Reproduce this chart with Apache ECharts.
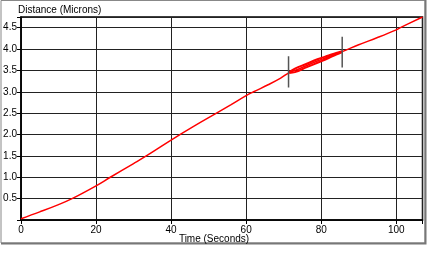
<!DOCTYPE html>
<html>
<head>
<meta charset="utf-8">
<script src="https://cdn.jsdelivr.net/npm/echarts@6/dist/echarts.min.js"></script>
<style>html,body{margin:0;padding:0;background:#fff}#c{width:428px;height:259px}</style>
</head>
<body>
<div id="c"></div>
<script>
// Main trace: time (s) and distance (microns)
var timeValues = [0, 5, 10, 13.6, 20, 23.8, 30, 33.6, 40, 46, 52.1, 56, 60, 62, 66, 69.2, 71.5, 73, 76, 79, 82, 84, 85.6, 90, 95, 100, 101.1, 107];
var distValues = [0.03, 0.19, 0.36, 0.5, 0.8, 1.0, 1.32, 1.51, 1.87, 2.19, 2.5, 2.7, 2.91, 3.0, 3.17, 3.32, 3.45, 3.50, 3.61, 3.72, 3.82, 3.89, 3.94, 4.1, 4.27, 4.45, 4.5, 4.75];
// Thick (overlapping runs) region
var bandTime = [71.5, 73, 76, 79, 82, 84, 85.6];
var bandUpper = [3.46, 3.54, 3.65, 3.76, 3.85, 3.91, 3.95];
var bandLower = [3.44, 3.46, 3.57, 3.68, 3.79, 3.87, 3.93];
// Error bars: [time, low, high]
var errTime = [71.3, 85.6];
var errLow = [3.10, 3.57];
var errHigh = [3.83, 4.29];
// Axis settings
var xTicks = [0, 20, 40, 60, 80, 100];
var yTicks = [0.5, 1.0, 1.5, 2.0, 2.5, 3.0, 3.5, 4.0, 4.5];
var xTitle = 'Time (Seconds)';
var yTitle = 'Distance (Microns)';

function pairs(xs, ys) { return xs.map(function (x, i) { return [x, ys[i]]; }); }

var series = [];
series.push({ type: 'line', data: pairs(bandTime, bandUpper), showSymbol: false, smooth: 0.4, lineStyle: { color: '#ff0000', width: 2 }, z: 3, silent: true });
series.push({ type: 'line', data: pairs(bandTime, bandLower), showSymbol: false, smooth: 0.4, lineStyle: { color: '#ff0000', width: 2 }, z: 3, silent: true });
series.push({ type: 'line', data: pairs(timeValues, distValues), showSymbol: false, smooth: 0.4, lineStyle: { color: '#ff0000', width: 1.5 }, z: 4, silent: true });
errTime.forEach(function (t, i) {
  series.push({ type: 'line', data: [[t, errLow[i]], [t, errHigh[i]]], showSymbol: false, lineStyle: { color: '#555', width: 1.5 }, z: 5, silent: true });
});

var font = 'Liberation Sans, Arial, sans-serif';
var chart = echarts.init(document.getElementById('c'), null, { renderer: 'canvas' });
chart.setOption({
  animation: false,
  backgroundColor: '#fff',
  grid: { left: 21, top: 17, right: 5.5, bottom: 39, show: true, borderColor: '#000', borderWidth: 1.5, backgroundColor: 'transparent', containLabel: false },
  xAxis: {
    type: 'value', min: 0, max: 107, interval: 20,
    axisLine: { show: true, lineStyle: { color: '#000', width: 1.5 } },
    axisTick: { show: true, inside: false, length: 4, lineStyle: { color: '#000' } },
    axisLabel: { margin: 5, color: '#000', fontSize: 10, fontFamily: font, formatter: function (v) { return xTicks.indexOf(v) >= 0 ? String(v) : ''; } },
    splitLine: { show: true, lineStyle: { color: '#222', width: 1 } }
  },
  yAxis: {
    type: 'value', min: 0, max: 4.75, interval: 0.5,
    axisLine: { show: true, lineStyle: { color: '#000', width: 1.5 } },
    axisTick: { show: true, inside: false, length: 4, lineStyle: { color: '#000' } },
    axisLabel: { margin: 4, color: '#000', fontSize: 10, fontFamily: font, formatter: function (v) {
      for (var i = 0; i < yTicks.length; i++) { if (Math.abs(yTicks[i] - v) < 1e-6) return yTicks[i].toFixed(1); }
      return '';
    } },
    splitLine: { show: true, lineStyle: { color: '#222', width: 1 } }
  },
  graphic: [
    { type: 'rect', shape: { x: 1, y: 0.5, width: 424, height: 242.5 }, style: { fill: 'none', stroke: '#888', lineWidth: 1 }, z: 100, silent: true },
    { type: 'polyline', shape: { points: [[425.5, 0], [425.5, 243.5], [1, 243.5]] }, style: { fill: 'none', stroke: '#777', lineWidth: 2 }, z: 100, silent: true },
    { type: 'text', left: 18, top: 5, style: { text: yTitle, fill: '#000', font: '10px ' + font }, z: 100 },
    { type: 'text', x: 214, y: 239, style: { text: xTitle, fill: '#000', font: '10px ' + font, textAlign: 'center', textVerticalAlign: 'middle' }, z: 100 }
  ],
  series: series
});
</script>
</body>
</html>
